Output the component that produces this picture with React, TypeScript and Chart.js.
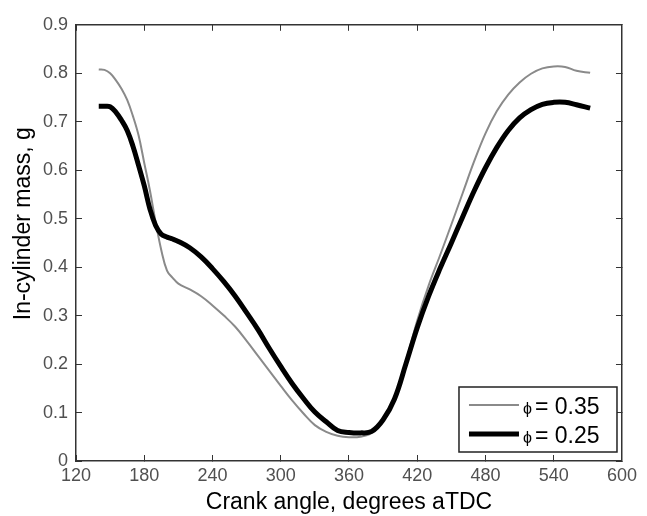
import React, { useEffect, useRef } from 'react';
import { Chart, registerables } from 'chart.js';

Chart.register(...registerables);

const crankAngles = [140, 145, 150, 155, 160, 165, 170, 175, 180, 185, 190, 195, 200, 205, 210, 220, 230, 240, 250, 260, 270, 280, 290, 300, 310, 320, 330, 340, 350, 360, 370, 380, 390, 400, 410, 420, 430, 440, 450, 460, 470, 480, 490, 500, 510, 520, 530, 540, 550, 560, 572];

const massPhi035 = [0.808, 0.807, 0.800, 0.786, 0.768, 0.745, 0.712, 0.672, 0.615, 0.558, 0.493, 0.435, 0.393, 0.378, 0.366, 0.354, 0.340, 0.321, 0.300, 0.277, 0.248, 0.217, 0.186, 0.155, 0.125, 0.098, 0.074, 0.060, 0.052, 0.049, 0.050, 0.058, 0.082, 0.130, 0.205, 0.290, 0.362, 0.424, 0.488, 0.553, 0.618, 0.676, 0.722, 0.756, 0.781, 0.799, 0.810, 0.814, 0.813, 0.805, 0.801];

const massPhi025 = [0.732, 0.732, 0.731, 0.720, 0.703, 0.682, 0.650, 0.610, 0.568, 0.520, 0.486, 0.468, 0.462, 0.458, 0.453, 0.440, 0.421, 0.397, 0.370, 0.340, 0.306, 0.271, 0.232, 0.195, 0.160, 0.129, 0.101, 0.081, 0.063, 0.059, 0.058, 0.061, 0.085, 0.128, 0.200, 0.275, 0.340, 0.397, 0.450, 0.504, 0.557, 0.605, 0.647, 0.682, 0.708, 0.725, 0.736, 0.740, 0.740, 0.735, 0.728];

const seriesLabels = ['ϕ = 0.35', 'ϕ = 0.25'];

const xTickValues = [120, 180, 240, 300, 360, 420, 480, 540, 600];
const xTickLabels = ['120', '180', '240', '300', '360', '420', '480', '540', '600'];
const yTickValues = [0, 0.1, 0.2, 0.3, 0.4, 0.5, 0.6, 0.7, 0.8, 0.9];
const yTickLabels = ['0', '0.1', '0.2', '0.3', '0.4', '0.5', '0.6', '0.7', '0.8', '0.9'];

const xTitle = 'Crank angle, degrees aTDC';
const yTitle = '      In-cylinder mass, g';

const FONT = "'Liberation Sans', Arial, Helvetica, sans-serif";
const AXIS_COLOR = '#333333';
const LABEL_COLOR = '#505050';

const insideLegend = {
  id: 'insideLegend',
  afterDraw(chart: any) {
    const { ctx, chartArea } = chart;
    const bw = 158;
    const bh = 65;
    const bx = chartArea.right - 163;
    const by = chartArea.bottom - 74;
    ctx.save();
    ctx.fillStyle = '#ffffff';
    ctx.fillRect(bx, by, bw, bh);
    ctx.strokeStyle = '#222222';
    ctx.lineWidth = 1.5;
    ctx.strokeRect(bx, by, bw, bh);
    chart.data.datasets.forEach((ds: any, i: number) => {
      const y = by + 18 + i * 29;
      ctx.beginPath();
      ctx.strokeStyle = ds.borderColor;
      ctx.lineWidth = ds.borderWidth;
      ctx.lineCap = 'butt';
      ctx.moveTo(bx + 10, y);
      ctx.lineTo(bx + 60, y);
      ctx.stroke();
      const label: string = ds.label;
      const sym = label.charAt(0);
      const rest = label.slice(1).trim();
      ctx.fillStyle = '#000000';
      ctx.textAlign = 'left';
      ctx.textBaseline = 'middle';
      ctx.font = `16px ${FONT}`;
      ctx.fillText(sym, bx + 64, y + 5);
      ctx.font = `23px ${FONT}`;
      ctx.fillText(rest, bx + 76, y + 2.5);
    });
    ctx.restore();
  },
};

function makeTicks(values: number[]) {
  return (scale: any) => {
    scale.ticks = values.map((v) => ({ value: v }));
  };
}

export default function App() {
  const canvasRef = useRef<HTMLCanvasElement | null>(null);

  useEffect(() => {
    if (!canvasRef.current) return;
    const grid = {
      drawOnChartArea: false,
      drawTicks: true,
      tickLength: -6,
      color: AXIS_COLOR,
      lineWidth: 1,
    };
    const border = { display: true, color: AXIS_COLOR, width: 1.5 };
    const chart = new Chart(canvasRef.current, {
      type: 'line',
      data: {
        datasets: [
          {
            label: seriesLabels[0],
            data: crankAngles.map((a, i) => ({ x: a, y: massPhi035[i] })),
            borderColor: '#8a8a8a',
            borderWidth: 2,
            pointRadius: 0,
            fill: false,
            tension: 0.4,
            order: 2,
          },
          {
            label: seriesLabels[1],
            data: crankAngles.map((a, i) => ({ x: a, y: massPhi025[i] })),
            borderColor: '#000000',
            borderWidth: 5,
            pointRadius: 0,
            fill: false,
            tension: 0.4,
            order: 1,
          },
        ],
      },
      options: {
        responsive: false,
        animation: false,
        layout: { padding: 0 },
        plugins: {
          legend: { display: false },
          tooltip: { enabled: false },
        },
        scales: {
          x: {
            type: 'linear',
            position: 'bottom',
            min: 120,
            max: 600,
            afterBuildTicks: makeTicks(xTickValues),
            ticks: {
              color: LABEL_COLOR,
              font: { family: FONT, size: 18 },
              padding: 10,
              maxRotation: 0,
              autoSkip: false,
              callback: (_v: any, i: number) => xTickLabels[i],
            },
            grid,
            border,
            title: {
              display: true,
              text: xTitle,
              color: '#000000',
              font: { family: FONT, size: 23 },
              padding: { top: 0, bottom: 0 },
            },
            afterFit: (s: any) => {
              s.height = 55;
            },
          },
          x2: {
            type: 'linear',
            position: 'top',
            min: 120,
            max: 600,
            afterBuildTicks: makeTicks(xTickValues),
            ticks: { display: false },
            grid,
            border,
            afterFit: (s: any) => {
              s.height = 15;
            },
          },
          y: {
            type: 'linear',
            position: 'left',
            min: 0,
            max: 0.9,
            afterBuildTicks: makeTicks(yTickValues),
            ticks: {
              color: LABEL_COLOR,
              font: { family: FONT, size: 18 },
              padding: 14,
              autoSkip: false,
              callback: (_v: any, i: number) => yTickLabels[i],
            },
            grid,
            border,
            title: {
              display: true,
              text: yTitle,
              color: '#000000',
              font: { family: FONT, size: 23 },
              padding: { top: 10, bottom: 0 },
            },
            afterFit: (s: any) => {
              s.width = 76;
            },
          },
          y2: {
            type: 'linear',
            position: 'right',
            min: 0,
            max: 0.9,
            afterBuildTicks: makeTicks(yTickValues),
            ticks: { display: false },
            grid,
            border,
            afterFit: (s: any) => {
              s.width = 19;
            },
          },
        },
      } as any,
      plugins: [insideLegend],
    });
    return () => chart.destroy();
  }, []);

  return (
    <div style={{ position: 'fixed', left: 0, top: 0, width: 647, height: 516, background: '#ffffff' }}>
      <canvas ref={canvasRef} width={647} height={516} />
    </div>
  );
}
